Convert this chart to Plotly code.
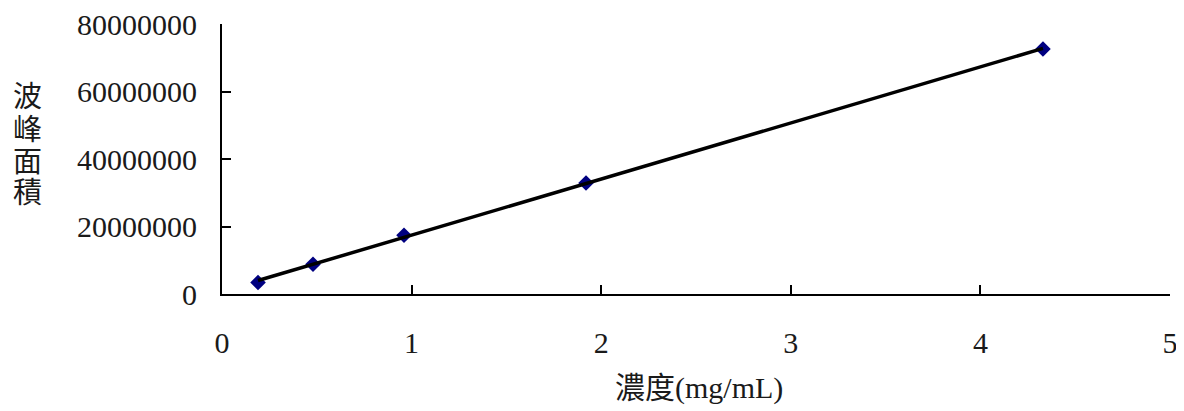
import numpy as np
import plotly.graph_objects as go

# Data
concentration = [0.19, 0.48, 0.96, 1.92, 4.33]          # mg/mL
peak_area = [3.4e6, 8.8e6, 17.4e6, 32.9e6, 72.6e6]
x_ticks = [0, 1, 2, 3, 4, 5]
y_ticks = [0, 20000000, 40000000, 60000000, 80000000]
y_title_chars = ["波", "峰", "面", "積"]
x_title = "濃度(mg/mL)"

# Linear trend line (least squares) between first and last concentration
slope, intercept = np.polyfit(concentration, peak_area, 1)
trend_x = [concentration[0], concentration[-1]]
trend_y = [slope * v + intercept for v in trend_x]

FONT = "Liberation Serif, Noto Sans CJK TC, serif"

# The page body has an 8px default margin; compensate so the plot lands in place.
OFF = 8
PLOT_L, PLOT_T, PLOT_W, PLOT_H = 222, 24, 948, 270
FIG_W, FIG_H = 1184 - OFF, 411 - OFF

fig = go.Figure()
fig.add_trace(go.Scatter(
    x=concentration, y=peak_area, mode="markers",
    marker=dict(symbol="diamond", size=12, color="#000080",
                line=dict(width=0)),
    showlegend=False, hoverinfo="skip", cliponaxis=False))
fig.add_trace(go.Scatter(
    x=trend_x, y=trend_y, mode="lines",
    line=dict(color="black", width=3.5),
    showlegend=False, hoverinfo="skip"))

fig.update_layout(
    width=FIG_W, height=FIG_H,
    margin=dict(l=PLOT_L - OFF, r=FIG_W - (PLOT_L - OFF) - PLOT_W,
                t=PLOT_T - OFF, b=FIG_H - (PLOT_T - OFF) - PLOT_H,
                autoexpand=False),
    paper_bgcolor="white", plot_bgcolor="white",
    font=dict(family=FONT, size=30, color="#1a1a1a"),
    xaxis=dict(range=[0, 5], tickvals=x_ticks, showgrid=False, zeroline=False,
               showline=True, linecolor="black", linewidth=2,
               ticks="inside", ticklen=9, tickwidth=2, tickcolor="black",
               ticklabelstandoff=21, ticklabeloverflow="allow",
               automargin=False, fixedrange=True),
    yaxis=dict(range=[0, 80000000], tickvals=y_ticks, tickformat="d",
               showgrid=False, zeroline=False,
               showline=True, linecolor="black", linewidth=2,
               ticks="inside", ticklen=9, tickwidth=2, tickcolor="black",
               ticklabelstandoff=17, ticklabeloverflow="allow",
               automargin=False, fixedrange=True),
)

# Vertical y-axis title, one character per line
char_y = [97, 130, 162, 193]
for ch, py in zip(y_title_chars, char_y):
    fig.add_annotation(text=ch, xref="paper", yref="paper",
                       x=(27 - PLOT_L) / PLOT_W, y=(PLOT_T + PLOT_H - py) / PLOT_H,
                       showarrow=False, xanchor="center", yanchor="middle",
                       font=dict(family=FONT, size=29, color="#1a1a1a"))

fig.add_annotation(text=x_title, xref="paper", yref="paper",
                   x=(699 - PLOT_L) / PLOT_W, y=(PLOT_T + PLOT_H - 388) / PLOT_H,
                   showarrow=False, xanchor="center", yanchor="middle",
                   font=dict(family=FONT, size=30, color="#1a1a1a"))

fig.write_html("out.html")
